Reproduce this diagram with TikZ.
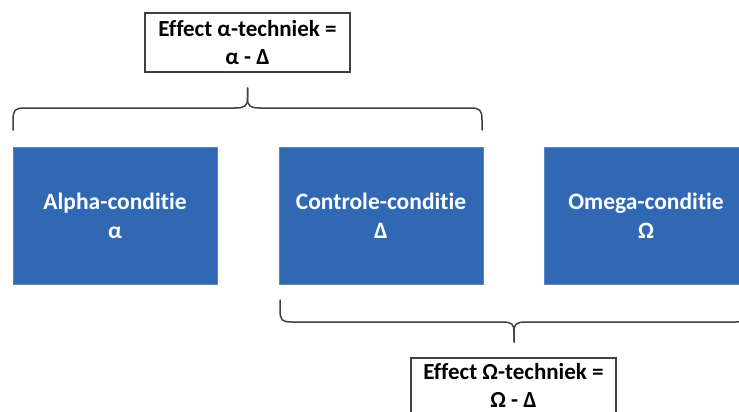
\documentclass[tikz,border=0pt]{standalone}
\usepackage{fontspec}
\setmainfont[Ligatures=NoCommon]{Carlito}
\definecolor{condblue}{HTML}{3068B4}
\definecolor{condedge}{HTML}{5A86C8}
\definecolor{linegray}{HTML}{404040}
\tikzset{
  cond/.style={draw=condedge, line width=0.8pt, fill=condblue, text=white,
    minimum width=204pt, minimum height=137pt, inner sep=0pt, align=center,
    font=\fontsize{23.5}{29}\selectfont\bfseries},
  effbox/.style={draw=linegray, line width=1.5pt, fill=white, text=black,
    minimum width=205pt, minimum height=59pt, inner sep=0pt, align=center,
    font=\fontsize{23}{27.5}\selectfont\bfseries},
  bracestyle/.style={draw=linegray, line width=1.5pt, line cap=round, line join=round}
}
\begin{document}
\begin{tikzpicture}[x=1pt,y=-1pt]
\useasboundingbox (0,0) rectangle (739,412);
\clip (0,0) rectangle (739,412);
\fill[white] (0,0) rectangle (739,412);

% condition boxes
\node[cond] (alpha) at (115,215.5) {Alpha-conditie\\α};
\node[cond] (ctrl) at (381,215.5) {Controle-conditie\\Δ};
\node[cond] (omega) at (646,215.5) {Omega-conditie\\Ω};

% effect boxes
\node[effbox] (effa) at (247.5,42.5) {Effect α-techniek =\\α - Δ};
\node[effbox, text depth=4pt] (effo) at (513.5,387.5) {Effect Ω-techniek =\\Ω - Δ};

% top brace
\coordinate (ta) at (13,130);
\coordinate (tb) at (482,130);
\coordinate (ttip) at (247.5,88);
\draw[bracestyle] (ta) -- (13,120) .. controls (13,110) and (15,108) .. (25,108)
  -- (235,108) .. controls (245,108) and (247.5,106) .. (247.5,98) -- (ttip);
\draw[bracestyle] (tb) -- (482,120) .. controls (482,110) and (480,108) .. (470,108)
  -- (260,108) .. controls (250,108) and (247.5,106) .. (247.5,98) -- (ttip);

% bottom brace
\coordinate (ba) at (280,300);
\coordinate (bb) at (748,300);
\coordinate (btip) at (514,342);
\draw[bracestyle] (ba) -- (280,310) .. controls (280,320) and (282,322) .. (292,322)
  -- (502,322) .. controls (512,322) and (514,324) .. (514,332) -- (btip);
\draw[bracestyle] (bb) -- (748,310) .. controls (748,320) and (746,322) .. (736,322)
  -- (526,322) .. controls (516,322) and (514,324) .. (514,332) -- (btip);
\end{tikzpicture}
\end{document}
